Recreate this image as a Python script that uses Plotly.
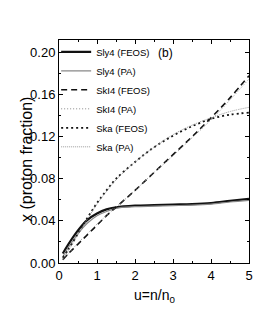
import plotly.graph_objects as go

u = [0.1, 0.25, 0.5, 0.75, 1.0, 1.25, 1.5, 2.0, 2.5, 3.0, 3.5, 4.0, 4.5, 5.0]
sly4_feos = [0.009, 0.018, 0.031, 0.041, 0.047, 0.051, 0.053, 0.0545, 0.055, 0.0555, 0.056, 0.057, 0.059, 0.061]
sly4_pa = [0.006, 0.015, 0.028, 0.038, 0.045, 0.049, 0.052, 0.0535, 0.054, 0.0545, 0.055, 0.056, 0.058, 0.0595]
ski4_feos = [0.003, 0.009, 0.018, 0.027, 0.036, 0.045, 0.053, 0.069, 0.086, 0.103, 0.120, 0.138, 0.157, 0.178]
ski4_pa = [0.003, 0.009, 0.019, 0.028, 0.037, 0.045, 0.053, 0.069, 0.086, 0.102, 0.119, 0.136, 0.155, 0.175]
ska_feos = [0.005, 0.013, 0.028, 0.043, 0.057, 0.069, 0.080, 0.096, 0.110, 0.121, 0.130, 0.137, 0.141, 0.143]
ska_pa = [0.004, 0.012, 0.027, 0.042, 0.056, 0.068, 0.079, 0.096, 0.110, 0.122, 0.131, 0.138, 0.144, 0.148]

names = ["Sly4 (FEOS)", "Sly4 (PA)", "SkI4 (FEOS)", "SkI4 (PA)", "Ska (FEOS)", "Ska (PA)"]
series = [sly4_feos, sly4_pa, ski4_feos, ski4_pa, ska_feos, ska_pa]
styles = [
    dict(color="#111111", width=2.2, dash="solid"),
    dict(color="#888888", width=1.2, dash="solid"),
    dict(color="#111111", width=1.6, dash="6px,4px"),
    dict(color="#888888", width=1.0, dash="1px,2px"),
    dict(color="#111111", width=1.8, dash="2px,3px"),
    dict(color="#999999", width=1.0, dash="1px,1px"),
]

FONT = "Liberation Sans Narrow, Arial Narrow, Liberation Sans, Arial"

fig = go.Figure()
for n, s, st in zip(names, series, styles):
    fig.add_trace(go.Scatter(x=u, y=s, mode="lines", name=n,
                             line=dict(shape="spline", **st)))

axis_common = dict(
    showline=True, linecolor="black", linewidth=1, mirror="ticks",
    ticks="inside", ticklen=4, tickcolor="black", showgrid=False, zeroline=False,
    automargin=False,
    tickfont=dict(family=FONT, size=13, color="black"),
)
fig.update_xaxes(range=[0, 5], tickvals=[0, 1, 2, 3, 4, 5],
                 minor=dict(ticks="inside", ticklen=2, dtick=0.5, tickcolor="black"),
                 **axis_common)
fig.update_yaxes(range=[0, 0.212], tickvals=[0, 0.04, 0.08, 0.12, 0.16, 0.20],
                 tickformat=".2f",
                 minor=dict(ticks="inside", ticklen=2, dtick=0.02, tickcolor="black"),
                 **axis_common)

# axis titles
fig.add_annotation(xref="paper", yref="paper", x=0, y=0.462, xshift=-32,
                   text="x (proton fraction)", textangle=-90, showarrow=False,
                   xanchor="center", yanchor="middle",
                   font=dict(family=FONT, size=16, color="black"))
fig.add_annotation(xref="paper", yref="paper", x=0.5, y=0, yshift=-33,
                   text="u=n/n<sub>0</sub>", showarrow=False,
                   xanchor="center", yanchor="middle",
                   font=dict(family=FONT, size=14, color="black"))

fig.add_annotation(x=2.55, y=0.2, xref="x", yref="y", text="(b)", showarrow=False,
                   xanchor="left", yanchor="middle",
                   font=dict(family=FONT, size=12, color="black"))

fig.update_layout(
    width=270, height=325,
    margin=dict(l=51, r=29, t=32, b=70, autoexpand=False),
    plot_bgcolor="white", paper_bgcolor="white",
    showlegend=True,
    legend=dict(x=-0.015, y=1.012, xanchor="left", yanchor="top",
                bgcolor="rgba(0,0,0,0)", font=dict(family=FONT, size=9.5, color="black"),
                tracegroupgap=0, itemwidth=30, borderwidth=0),
    font=dict(family=FONT),
)
fig.write_html("out.html")
